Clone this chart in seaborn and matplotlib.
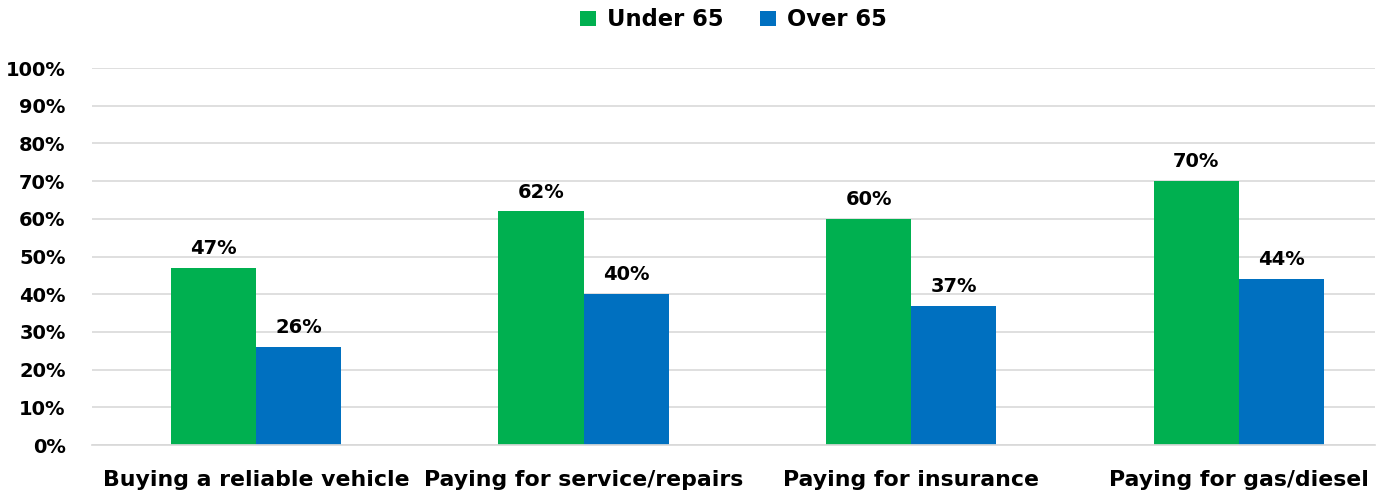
import matplotlib
matplotlib.use("Agg")
import matplotlib.pyplot as plt
import seaborn as sns
import pandas as pd
from matplotlib.ticker import FuncFormatter

categories = ["Buying a reliable vehicle", "Paying for service/repairs",
              "Paying for insurance", "Paying for gas/diesel"]
series_names = ["Under 65", "Over 65"]
under_65 = [47, 62, 60, 70]
over_65 = [26, 40, 37, 44]
colors = ["#00B050", "#0070C0"]

df = pd.DataFrame({
    "category": categories * 2,
    "group": [series_names[0]] * 4 + [series_names[1]] * 4,
    "value": under_65 + over_65,
})

sns.set_theme(style="white")
plt.rcParams["font.family"] = ["DejaVu Sans"]
plt.rcParams["font.weight"] = "bold"

fig = plt.figure(figsize=(13.86, 4.98), dpi=100)
ax = fig.add_axes([92 / 1386, 1 - 445 / 498, (1375 - 92) / 1386, (445 - 68) / 498])

sns.barplot(data=df, x="category", y="value", hue="group", palette=colors,
            width=0.52, ax=ax, saturation=1, legend=True, linewidth=0)

ax.set_ylim(0, 100)
ax.set_xlim(-0.5, 3.415)
ax.set_yticks(range(0, 101, 10))
ax.yaxis.set_major_formatter(FuncFormatter(lambda v, p: f"{int(v)}%"))
ax.grid(axis="y", color="#d9d9d9", linewidth=1.2)
ax.set_axisbelow(True)
for s in ["top", "right", "left"]:
    ax.spines[s].set_visible(False)
ax.spines["bottom"].set_color("#d9d9d9")
ax.set_xlabel("")
ax.set_ylabel("")
ax.tick_params(axis="y", length=0, pad=19, labelsize=14)
ax.tick_params(axis="x", length=0, pad=18, labelsize=15.8)
for lbl in ax.get_xticklabels() + ax.get_yticklabels():
    lbl.set_fontweight("bold")
    lbl.set_color("black")

for cont in ax.containers:
    ax.bar_label(cont, labels=[f"{int(v)}%" for v in cont.datavalues],
                 padding=7, fontsize=14, fontweight="bold", color="black")

leg = ax.legend(loc="center", bbox_to_anchor=(0.5, (498 - 20 - (498 - 445)) / (445 - 68)),
                ncol=2, frameon=False, fontsize=16.3, handlelength=0.7,
                handleheight=0.7, handletextpad=0.5, columnspacing=1.6)
for t in leg.get_texts():
    t.set_fontweight("bold")
    t.set_color("black")

fig.savefig("out.png", dpi=100)
